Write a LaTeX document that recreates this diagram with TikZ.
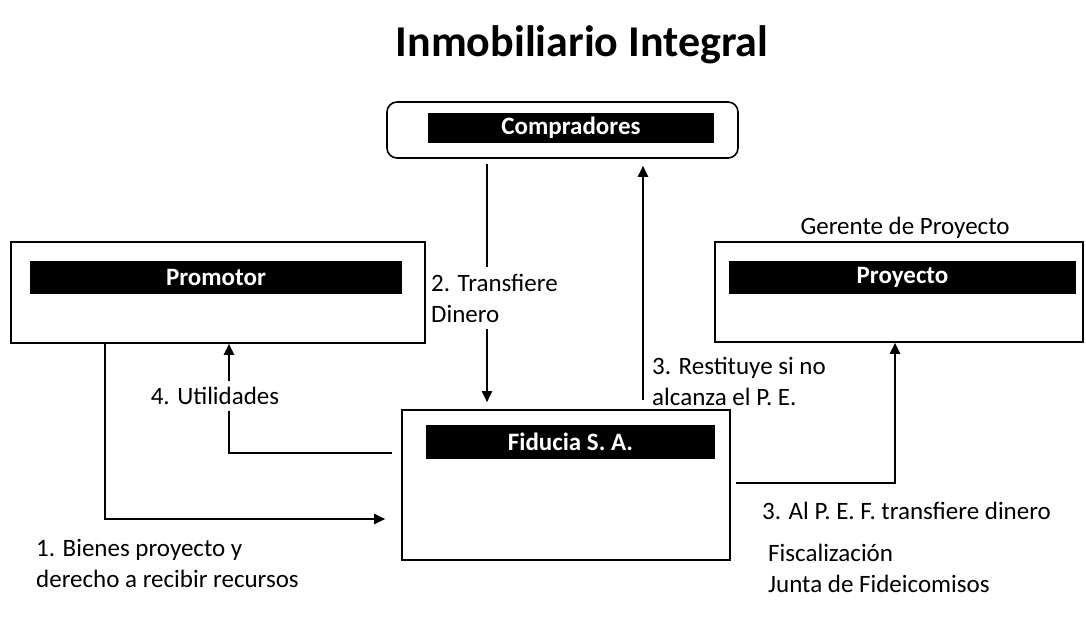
\documentclass[tikz,border=0pt]{standalone}
\usepackage{fontspec}
\setmainfont{Carlito}
\usetikzlibrary{arrows.meta}
\begin{document}
\begin{tikzpicture}[x=1pt,y=-1pt,
  box/.style={draw, line width=1.6pt, minimum width=#1, inner sep=0pt},
  bar/.style={fill=black, text=white, font=\fontsize{25}{28}\selectfont\bfseries, inner sep=0pt},
  arr/.style={line width=2pt, -{Triangle[length=11pt,width=10pt]}},
  txt/.style={font=\fontsize{25}{31}\selectfont, align=left, inner sep=0pt},
  lab/.style={txt, fill=white, inner xsep=2pt, inner ysep=7pt}]
\useasboundingbox (0,0) rectangle (1086,623);
% title
\node[font=\fontsize{44}{48}\selectfont\bfseries] (title) at (582,45) {Inmobiliario Integral};
% boxes
\node[box=351pt, minimum height=56pt, rounded corners=10pt] (comp) at (562.5,130) {};
\node[bar, minimum width=286pt, minimum height=30pt] (compbar) at (571,128) {Compradores};
\node[box=414pt, minimum height=101pt] (prom) at (218,292.5) {};
\node[bar, minimum width=372pt, minimum height=33pt] (prombar) at (216,277.5) {Promotor};
\node[box=368pt, minimum height=100pt] (proy) at (899,292) {};
\node[bar, minimum width=347pt, minimum height=33pt] (proybar) at (902.5,277.5) {Proyecto};
\node[box=328pt, minimum height=150pt] (fid) at (566,485) {};
\node[bar, minimum width=289pt, minimum height=34pt] (fidbar) at (570.5,442) {Fiducia S. A.};
% helper coordinates
\coordinate (x1) at (105,0);
\coordinate (y1) at (0,519);
\coordinate (x2) at (487,0);
\coordinate (x3) at (643,0);
\coordinate (x4) at (229,0);
\coordinate (y4) at (0,453);
\coordinate (x5) at (895,0);
\coordinate (y5) at (0,483);
% connectors
\draw[arr, shorten <=5pt, shorten >=7pt] (comp.south -| x2) -- (fid.north -| x2);
\node[lab, anchor=west] (l2) at (429,298) {2. Transfiere\\Dinero};
\draw[arr, shorten >=7pt] ([yshift=9pt]fid.north -| x3) -- (comp.south -| x3);
\node[txt, anchor=west] (l3) at (652,381) {3. Restituye si no\\alcanza el P. E.};
\draw[arr] (prom.south -| x1) |- ([xshift=-16pt]fid.west |- y1);
\node[txt, anchor=west] (l1) at (36,563) {1. Bienes proyecto y\\derecho a recibir recursos};
\draw[arr] ([xshift=-9pt]fid.west |- y4) -| (prom.south -| x4);
\node[lab, inner ysep=6pt] (l4) at (215,396) {4. Utilidades};
\draw[arr] ([xshift=5pt]fid.east |- y5) -| (proy.south -| x5);
\node[txt, anchor=west] (l5) at (762,511) {3. Al P. E. F. transfiere dinero};
\node[txt] (ger) at (905,228) {Gerente de Proyecto};
\node[txt, anchor=west] (fis) at (768,568) {Fiscalización\\Junta de Fideicomisos};
\end{tikzpicture}
\end{document}
